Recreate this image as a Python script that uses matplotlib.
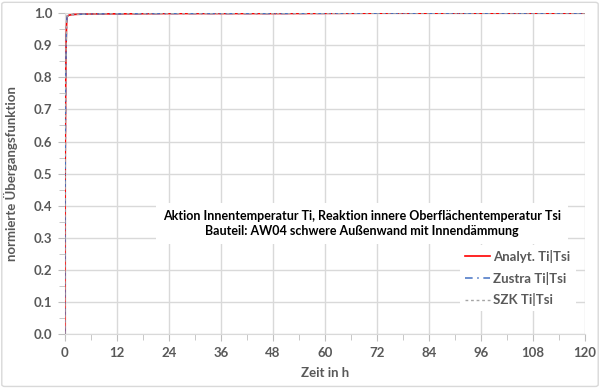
import matplotlib
matplotlib.use('Agg')
from matplotlib import pyplot as plt
from matplotlib.patches import FancyBboxPatch
from matplotlib.ticker import MultipleLocator

# step response (time in h, normalised value)
zeit = [0, 0.05, 0.1, 0.2, 0.3, 0.4, 0.5, 1, 2, 4, 8, 12, 24, 48, 72, 96, 120]
analyt = [0, 0.35, 0.55, 0.78, 0.9, 0.96, 0.99, 0.994, 0.996, 0.997, 0.998, 0.998, 0.999, 0.999, 1.0, 1.0, 1.0]
zustra = [0, 0.34, 0.54, 0.77, 0.89, 0.96, 0.99, 0.994, 0.996, 0.997, 0.998, 0.998, 0.999, 0.999, 1.0, 1.0, 1.0]
szk = [0, 0.35, 0.55, 0.78, 0.9, 0.96, 0.99, 0.994, 0.996, 0.997, 0.998, 0.998, 0.999, 0.999, 1.0, 1.0, 1.0]

plt.rcParams['font.family'] = ['Lato', 'DejaVu Sans']
grey = '#595959'

fig = plt.figure(figsize=(6, 3.88), dpi=100)
ax = fig.add_axes([0.108, 0.139, 0.867, 0.827])

ax.plot(zeit, analyt, color='#ff0000', lw=1.2, label='Analyt. Ti|Tsi', zorder=3)
ax.plot(zeit, zustra, color='#4472c4', lw=1.1, ls=(0, (5, 3, 1, 3)), label='Zustra Ti|Tsi', zorder=4)
ax.plot(zeit, szk, color='#a5a5a5', lw=1.0, ls=(0, (2, 2)), label='SZK Ti|Tsi', zorder=5)

ax.set_xlim(0, 120)
ax.set_ylim(0, 1.0)
ax.xaxis.set_major_locator(MultipleLocator(12))
ax.xaxis.set_minor_locator(MultipleLocator(6))
ax.yaxis.set_major_locator(MultipleLocator(0.1))
ax.yaxis.set_minor_locator(MultipleLocator(0.05))
ax.yaxis.set_major_formatter(matplotlib.ticker.FormatStrFormatter('%.1f'))
ax.grid(True, which='major', color='#d9d9d9', lw=1.0, zorder=0)
ax.set_axisbelow(True)

for s in ['top', 'right']:
    ax.spines[s].set_visible(False)
for s in ['left', 'bottom']:
    ax.spines[s].set_color('#d9d9d9')
ax.tick_params(which='both', direction='out', color='#bfbfbf', labelcolor=grey, labelsize=9.5)
ax.tick_params(which='major', length=5, pad=4)
ax.tick_params(which='minor', length=4)
for lab in ax.get_xticklabels() + ax.get_yticklabels():
    lab.set_fontweight('bold')

ax.set_xlabel('Zeit in h', color=grey, fontweight='bold', fontsize=9.5, labelpad=6)
ax.set_ylabel('normierte Übergangsfunktion', color=grey, fontweight='bold', fontsize=9.5, labelpad=11)

ax.text(68.5, 0.345, 'Aktion Innentemperatur Ti, Reaktion innere Oberflächentemperatur Tsi\n'
        'Bauteil: AW04 schwere Außenwand mit Innendämmung',
        ha='center', va='center', fontsize=9, fontweight='bold', color='#000000',
        linespacing=1.35, zorder=6,
        bbox=dict(facecolor='white', edgecolor='none', pad=5))

leg = ax.legend(loc='lower right', bbox_to_anchor=(0.995, 0.05), frameon=True,
                facecolor='white', edgecolor='none', framealpha=1,
                prop={'size': 9.5, 'weight': 'bold'}, labelcolor=grey,
                handlelength=1.9, handletextpad=0.25,
                labelspacing=0.65, borderpad=0.4)

frame = FancyBboxPatch((0.003, 0.004), 0.994, 0.99, boxstyle='round,pad=0,rounding_size=0.005',
                       transform=fig.transFigure, facecolor='none', edgecolor='#d9d9d9', lw=1.0)
fig.patches.append(frame)

fig.savefig('out.png', dpi=100)
